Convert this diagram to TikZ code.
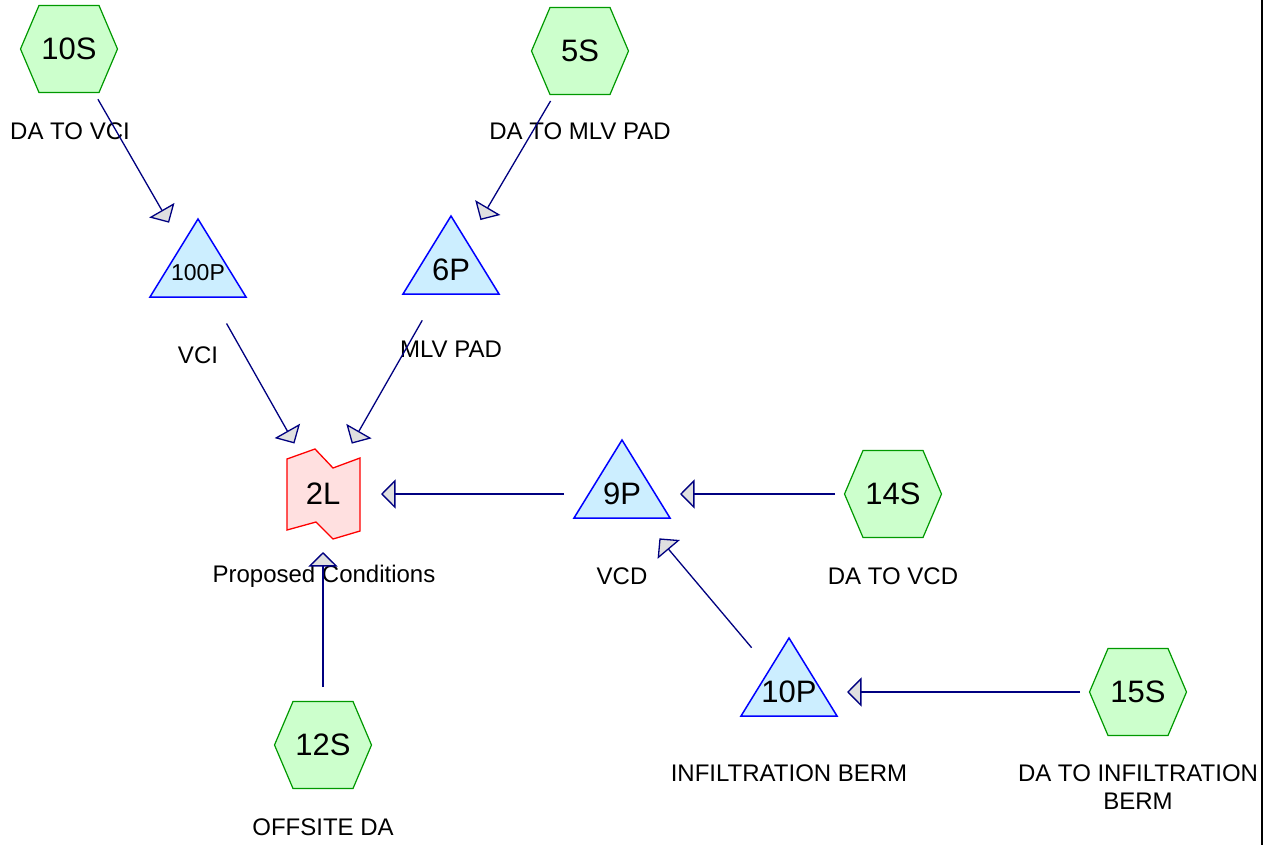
\documentclass[tikz,border=0pt]{standalone}
\usepackage{fontspec}
\setmainfont{Liberation Sans}
\usetikzlibrary{arrows.meta}
\definecolor{hexfill}{HTML}{CCFFCC}
\definecolor{hexline}{HTML}{009900}
\definecolor{trifill}{HTML}{CCEEFF}
\definecolor{triline}{HTML}{0000FF}
\definecolor{lkfill}{HTML}{FFE0E0}
\definecolor{lkline}{HTML}{FF0000}
\definecolor{conn}{HTML}{000080}
\definecolor{tipfill}{HTML}{E0E0E0}
\newcommand\hexat[4]{%
  \draw[hexshape] (#2,#3) ++(-48.5,0) -- ++(18.5,-43.5) -- ++(60,0) -- ++(18.5,43.5) -- ++(-18.5,43.5) -- ++(-60,0) -- cycle;
  \node[nodetext] (#1) at (#2,#3) {#4};}
\newcommand\triat[5]{%
  \draw[trishape] (#2,#3) ++(0,-54) -- ++(48,78) -- ++(-96,0) -- cycle;
  \node[#5] (#1) at (#2,#3) {#4};}
\begin{document}
\begin{tikzpicture}[x=1pt,y=-1pt,
  hexshape/.style={draw=hexline,fill=hexfill,line width=1.2pt},
  trishape/.style={draw=triline,fill=trifill,line width=1.5pt},
  lkshape/.style={draw=lkline,fill=lkfill,line width=1.3pt},
  nodetext/.style={inner sep=0pt,font=\fontsize{31}{36}\selectfont},
  smalltext/.style={inner sep=0pt,font=\fontsize{23}{27}\selectfont},
  lbl/.style={inner sep=0pt,font=\fontsize{24}{28}\selectfont,align=center},
  flow/.style={draw=conn,line width=1.3pt,shorten <=58pt,shorten >=58pt,
    -{Triangle[length=14.5pt,width=29pt,fill=tipfill]}}
]
\useasboundingbox (0,0) rectangle (1273,845);
\fill[white] (0,0) rectangle (1273,845);
% border line at right
\draw[line width=2pt] (1262,0) -- (1262,845);
% subcatchments
\hexat{n10S}{69}{49}{10S}
\hexat{n5S}{580}{51}{5S}
\hexat{n14S}{893}{494}{14S}
\hexat{n12S}{323}{745}{12S}
\hexat{n15S}{1138}{692}{15S}
% ponds
\triat{n100P}{198}{273}{100P}{smalltext}
\triat{n6P}{451}{270}{6P}{nodetext}
\triat{n9P}{622}{494}{9P}{nodetext}
\triat{n10P}{789}{692}{10P}{nodetext}
% link
\draw[lkshape,shift={(323,494)}] (-36,-35) -- (-8,-45) -- (10,-26) -- (37,-36) -- (37,37) -- (10,45) -- (-7,28) -- (-36,36) -- cycle;
\node[nodetext] (n2L) at (323,494) {2L};
% labels
\node[lbl] (l10S) at (70,131) {DA TO VCI};
\node[lbl] (l5S) at (580,131) {DA TO MLV PAD};
\node[lbl] (l100P) at (198,355) {VCI};
\node[lbl] (l6P) at (451,349) {MLV PAD};
\node[lbl] (l2L) at (324,576) {Proposed Conditions};
\node[lbl] (l9P) at (622,576) {VCD};
\node[lbl] (l14S) at (893,576) {DA TO VCD};
\node[lbl] (l12S) at (323,827) {OFFSITE DA};
\node[lbl] (l10P) at (789,773) {INFILTRATION BERM};
\node[lbl] (l15S) at (1138,787) {DA TO INFILTRATION\\BERM};
% connectors
\draw[flow] (n10S.center) -- (n100P.center);
\draw[flow] (n5S.center) -- (n6P.center);
\draw[flow] (n100P.center) -- (n2L.center);
\draw[flow] (n6P.center) -- (n2L.center);
\draw[flow] (n9P.center) -- (n2L.center);
\draw[flow] (n14S.center) -- (n9P.center);
\draw[flow] (n10P.center) -- (n9P.center);
\draw[flow] (n15S.center) -- (n10P.center);
\draw[flow] (n12S.center) -- (n2L.center);
\end{tikzpicture}
\end{document}
